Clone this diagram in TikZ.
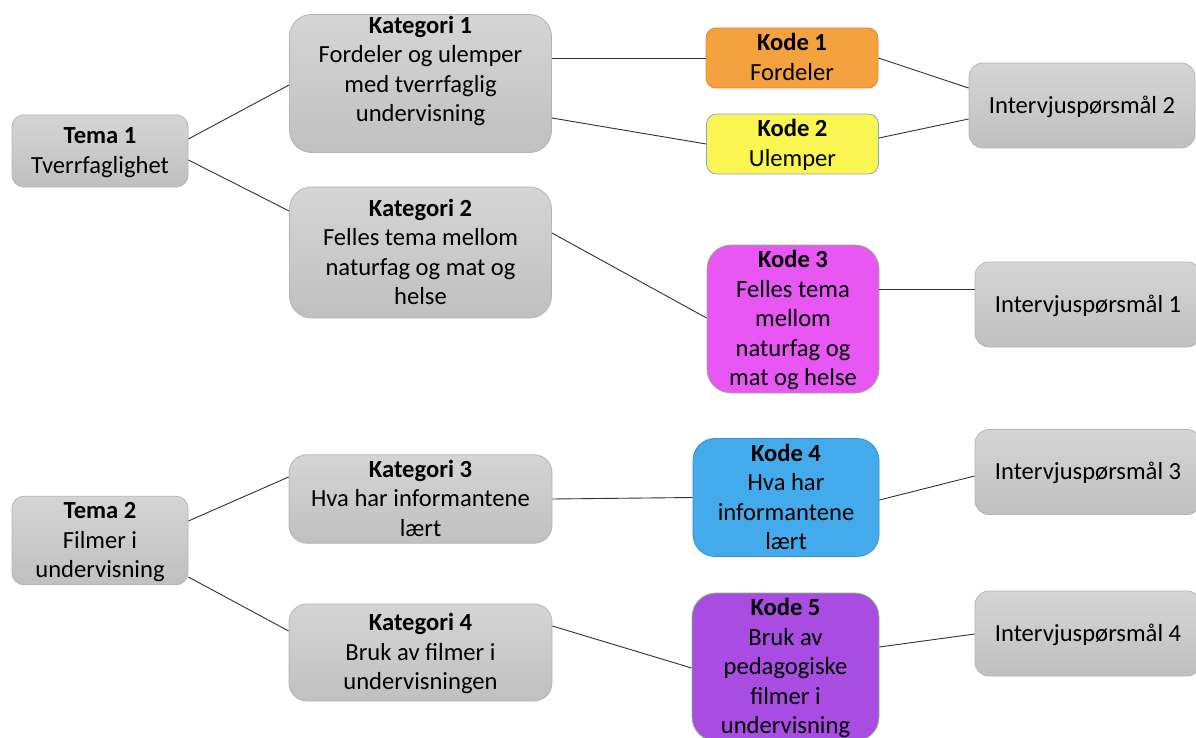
\documentclass[tikz,border=0pt]{standalone}
\usepackage{fontspec}
\setmainfont{Carlito}
\definecolor{grtop}{RGB}{213,213,213}
\definecolor{grbot}{RGB}{192,192,192}
\definecolor{grborder}{RGB}{180,180,180}
\definecolor{orfill}{RGB}{244,161,63}
\definecolor{ordraw}{RGB}{226,136,52}
\definecolor{yefill}{RGB}{251,245,82}
\definecolor{yedraw}{RGB}{130,166,220}
\definecolor{mafill}{RGB}{232,86,244}
\definecolor{madraw}{RGB}{140,190,110}
\definecolor{blfill}{RGB}{67,171,235}
\definecolor{bldraw}{RGB}{58,140,205}
\definecolor{pufill}{RGB}{168,76,226}
\definecolor{pudraw}{RGB}{140,190,110}
\definecolor{linecol}{RGB}{50,50,50}
\newcommand\ls{\rule[-7pt]{0pt}{29.5pt}}
\begin{document}
\begin{tikzpicture}[x=1pt,y=-1pt,
  base/.style={rectangle, inner sep=0pt, align=center,
    font=\fontsize{24.6}{29.5}\selectfont, line width=0.8pt},
  graybox/.style={base, draw=grborder, top color=grtop, bottom color=grbot},
  colbox/.style 2 args={base, draw=#2, fill=#1},
  conn/.style={draw=linecol, line width=0.9pt}
]
\useasboundingbox (0,0) rectangle (1196,738);
\clip (0,0) rectangle (1196,738);
\fill[white] (0,0) rectangle (1196,738);

% Tema
\node[graybox, rounded corners=12pt, minimum width=176pt, minimum height=72pt] (tema1) at (100,151)
  {\ls\textbf{Tema 1}\\Tverrfaglighet\ls};
\node[graybox, rounded corners=12pt, minimum width=176pt, minimum height=87pt] (tema2) at (100,540.5)
  {\ls\textbf{Tema 2}\\Filmer i\\undervisning\ls};

% Kategorier
\node[graybox, rounded corners=22pt, minimum width=262pt, minimum height=138pt] (kat1) at (420.5,83.5) {};
\node[base] (kat1t) at (420.5,70)
  {\ls\textbf{Kategori 1}\\Fordeler og ulemper\\med tverrfaglig\\undervisning\ls};
\node[graybox, rounded corners=22pt, minimum width=262pt, minimum height=131pt] (kat2) at (420.5,252.5)
  {\ls\textbf{Kategori 2}\\Felles tema mellom\\naturfag og mat og\\helse\ls};
\node[graybox, rounded corners=18pt, minimum width=263pt, minimum height=88pt] (kat3) at (420.5,499)
  {\ls\textbf{Kategori 3}\\Hva har informantene\\lært\ls};
\node[graybox, rounded corners=18pt, minimum width=263pt, minimum height=97pt] (kat4) at (420.5,652.5)
  {\ls\textbf{Kategori 4}\\Bruk av filmer i\\undervisningen\ls};

% Koder
\node[colbox={orfill}{ordraw}, rounded corners=10pt, minimum width=172pt, minimum height=60pt] (kode1) at (792,58)
  {\ls\textbf{Kode 1}\\Fordeler\ls};
\node[colbox={yefill}{yedraw}, rounded corners=10pt, minimum width=172pt, minimum height=60pt] (kode2) at (792.5,144)
  {\ls\textbf{Kode 2}\\Ulemper\ls};
\node[colbox={mafill}{madraw}, rounded corners=24pt, minimum width=172pt, minimum height=148pt] (kode3) at (793,319)
  {\ls\textbf{Kode 3}\\Felles tema\\mellom\\naturfag og\\mat og helse\ls};
\node[colbox={blfill}{bldraw}, rounded corners=22pt, minimum width=186pt, minimum height=118pt] (kode4) at (786,497.5)
  {\ls\textbf{Kode 4}\\Hva har\\informantene\\lært\ls};
\node[colbox={pufill}{pudraw}, rounded corners=24pt, minimum width=187pt, minimum height=148pt] (kode5) at (785.5,667)
  {\ls\textbf{Kode 5}\\Bruk av\\pedagogiske\\filmer i\\undervisning\ls};

% Intervjuspørsmål
\node[graybox, rounded corners=14pt, minimum width=226pt, minimum height=85pt] (int2) at (1082,105.5)
  {\ls Intervjuspørsmål 2};
\node[graybox, rounded corners=14pt, minimum width=226pt, minimum height=85pt] (int1) at (1088,304.5)
  {\ls Intervjuspørsmål 1};
\node[graybox, rounded corners=14pt, minimum width=226pt, minimum height=85pt] (int3) at (1088,472)
  {\ls Intervjuspørsmål 3};
\node[graybox, rounded corners=14pt, minimum width=226pt, minimum height=85pt] (int4) at (1088,633.5)
  {\ls Intervjuspørsmål 4};

% Connectors
\draw[conn] ([yshift=12pt]tema1.east) -- ([yshift=-1.5pt]kat1.west);
\draw[conn] ([yshift=-9pt]tema1.east) -- ([yshift=41.5pt]kat2.west);
\draw[conn] ([yshift=25.5pt]kat1.east) -- (kode1.west);
\draw[conn] ([yshift=-34.5pt]kat1.east) -- (kode2.west);
\draw[conn] (kode1.east) -- ([yshift=17.5pt]int2.west);
\draw[conn] ([yshift=6pt]kode2.east) -- ([yshift=-13.5pt]int2.west);
\draw[conn] ([yshift=19.5pt]kat2.east) -- ([yshift=1pt]kode3.west);
\draw[conn] ([yshift=30pt]kode3.east) -- ([yshift=15.5pt]int1.west);
\draw[conn] ([yshift=19.5pt]tema2.east) -- ([yshift=22pt]kat3.west);
\draw[conn] ([yshift=-36.5pt]tema2.east) -- ([yshift=21.5pt]kat4.west);
\draw[conn] (kat3.east) -- (kode4.west);
\draw[conn] ([yshift=26.5pt]kat4.east) -- ([yshift=-1pt]kode5.west);
\draw[conn] ([yshift=-2.5pt]kode4.east) -- ([yshift=-4pt]int3.west);
\draw[conn] ([yshift=20pt]kode5.east) -- ([yshift=-0.5pt]int4.west);
\end{tikzpicture}
\end{document}
